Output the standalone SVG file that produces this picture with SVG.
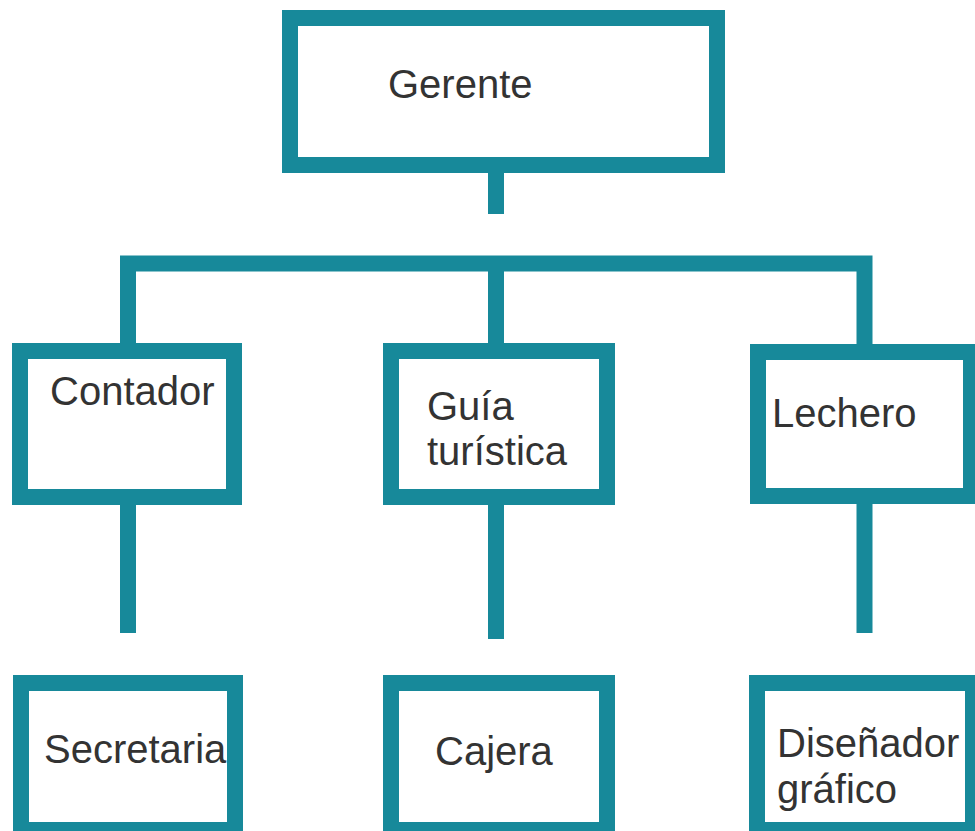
<svg xmlns="http://www.w3.org/2000/svg" width="975" height="831" viewBox="0 0 975 831">
<style>
.box{fill:#ffffff;stroke:#17899a;stroke-width:16;stroke-linejoin:miter}
.ln{fill:none;stroke:#17899a;stroke-width:16;stroke-linejoin:miter;stroke-linecap:butt}
.t{font-family:"Liberation Sans",Arial,sans-serif;font-size:40px;fill:#333333}
</style>
<rect x="0" y="0" width="975" height="831" fill="#ffffff"/>
<g id="connectors">
<line class="ln" x1="496" y1="172" x2="496" y2="214"/>
<path class="ln" d="M128 345 V263.5 H864.5 V346"/>
<line class="ln" x1="496" y1="263" x2="496" y2="345"/>
<line class="ln" x1="128" y1="504" x2="128" y2="633"/>
<line class="ln" x1="496" y1="504" x2="496" y2="639"/>
<line class="ln" x1="864.5" y1="502" x2="864.5" y2="633"/>
</g>
<g id="gerente">
<rect class="box" x="290" y="18" width="427" height="147"/>
<text class="t" x="388" y="98">Gerente</text>
</g>
<g id="contador">
<rect class="box" x="20" y="351" width="214" height="146"/>
<text class="t" x="50" y="405">Contador</text>
</g>
<g id="guia">
<rect class="box" x="391" y="351" width="216" height="146"/>
<text class="t" x="427" y="420">Guía</text>
<text class="t" x="427" y="465">turística</text>
</g>
<g id="lechero">
<rect class="box" x="758" y="352" width="213" height="144"/>
<text class="t" x="772" y="427">Lechero</text>
</g>
<g id="secretaria">
<rect class="box" x="21" y="683" width="214" height="147"/>
<text class="t" x="44" y="763">Secretaria</text>
</g>
<g id="cajera">
<rect class="box" x="391" y="683" width="216" height="147"/>
<text class="t" x="435" y="765">Cajera</text>
</g>
<g id="disenador">
<rect class="box" x="757" y="683" width="216" height="147"/>
<text class="t" x="777" y="757">Diseñador</text>
<text class="t" x="777" y="803">gráfico</text>
</g>
</svg>
